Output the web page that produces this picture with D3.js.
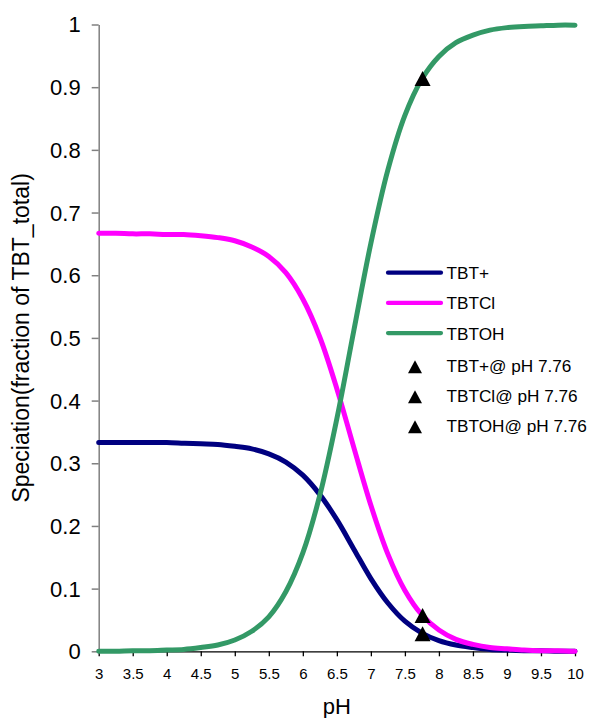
<!DOCTYPE html>
<html>
<head>
<meta charset="utf-8">
<script src="https://cdn.jsdelivr.net/npm/d3@7"></script>
<style>
  html, body { margin: 0; padding: 0; background: #fff; }
  svg { display: block; font-family: "Liberation Sans", Arial, sans-serif; }
</style>
</head>
<body>
<svg id="chart" width="593" height="718"></svg>
<script>
// pH grid of the speciation calculation
const pH = [3, 3.25, 3.5, 3.75, 4, 4.25, 4.5, 4.75, 5, 5.25, 5.5, 5.75, 6, 6.25, 6.5,
            6.75, 7, 7.25, 7.5, 7.75, 8, 8.25, 8.5, 8.75, 9, 9.25, 9.5, 9.75, 10];

// fraction of total TBT in each form
const tbtPlus = [0.333, 0.333, 0.333, 0.333, 0.333, 0.332, 0.331, 0.330, 0.327, 0.323, 0.315,
                 0.302, 0.281, 0.250, 0.210, 0.163, 0.116, 0.077, 0.048, 0.029, 0.017, 0.010,
                 0.006, 0.003, 0.002, 0.001, 0.001, 0.000, 0.000];
const tbtCl   = [0.667, 0.667, 0.666, 0.666, 0.665, 0.665, 0.663, 0.660, 0.655, 0.645, 0.630,
                 0.604, 0.562, 0.501, 0.419, 0.325, 0.233, 0.155, 0.097, 0.058, 0.034, 0.019,
                 0.011, 0.006, 0.004, 0.002, 0.001, 0.001, 0.000];
const tbtOH   = [0.000, 0.000, 0.001, 0.001, 0.002, 0.003, 0.006, 0.010, 0.018, 0.032, 0.055,
                 0.095, 0.157, 0.249, 0.371, 0.512, 0.651, 0.768, 0.855, 0.913, 0.949, 0.971,
                 0.983, 0.991, 0.995, 0.997, 0.998, 0.999, 0.999];

// single-point speciation at the sample pH
const samplePH = 7.76;
const sampleNames  = ["TBT+@ pH 7.76", "TBTCl@ pH 7.76", "TBTOH@ pH 7.76"];
const sampleValues = [0.028, 0.057, 0.914];

const seriesNames  = ["TBT+", "TBTCl", "TBTOH"];
const seriesColors = ["#000080", "#FF00FF", "#339966"];

const xTicks = [3, 3.5, 4, 4.5, 5, 5.5, 6, 6.5, 7, 7.5, 8, 8.5, 9, 9.5, 10];
const xTickLabels = ["3", "3.5", "4", "4.5", "5", "5.5", "6", "6.5", "7", "7.5", "8", "8.5", "9", "9.5", "10"];
const yTicks = [0, 0.1, 0.2, 0.3, 0.4, 0.5, 0.6, 0.7, 0.8, 0.9, 1];
const yTickLabels = ["0", "0.1", "0.2", "0.3", "0.4", "0.5", "0.6", "0.7", "0.8", "0.9", "1"];

const svg = d3.select("#chart");

const x = d3.scaleLinear().domain([3, 10]).range([98.7, 575]);
const y = d3.scaleLinear().domain([0, 1]).range([651.3, 24.5]);

// y axis (grey)
const yAxis = svg.append("g")
  .attr("transform", `translate(${x(3)},0)`)
  .call(d3.axisLeft(y).tickValues(yTicks)
    .tickFormat((d, i) => yTickLabels[i])
    .tickSize(7).tickSizeOuter(0).tickPadding(11));
yAxis.select(".domain").attr("stroke", "#808080").attr("stroke-width", 1.5);
yAxis.selectAll(".tick line").attr("stroke", "#808080").attr("stroke-width", 1.5);
yAxis.selectAll(".tick text").attr("font-size", 22).attr("fill", "#000")
  .attr("font-family", "Liberation Sans, Arial, sans-serif").attr("dy", "0.34em");

// x axis
const xAxis = svg.append("g")
  .attr("transform", `translate(0,${y(0)})`)
  .call(d3.axisBottom(x).tickValues(xTicks)
    .tickFormat((d, i) => xTickLabels[i])
    .tickSize(5).tickSizeOuter(0).tickPadding(12));
xAxis.select(".domain").attr("stroke", "#000").attr("stroke-width", 1.3);
xAxis.selectAll(".tick line").attr("stroke", "#000").attr("stroke-width", 1.3);
xAxis.selectAll(".tick text").attr("font-size", 15).attr("fill", "#000")
  .attr("font-family", "Liberation Sans, Arial, sans-serif");

// axis titles
svg.append("text")
  .attr("x", x(6.5)).attr("y", 714)
  .attr("text-anchor", "middle")
  .attr("font-size", 22).attr("fill", "#000")
  .text("pH");

svg.append("text")
  .attr("transform", `translate(29,${(y(0) + y(1)) / 2}) rotate(-90)`)
  .attr("text-anchor", "middle")
  .attr("font-size", 23).attr("fill", "#000")
  .text("Speciation(fraction of TBT_total)");

// speciation curves
const allSeries = [tbtPlus, tbtCl, tbtOH];
const line = d3.line()
  .x((d, i) => x(pH[i]))
  .y(d => y(d))
  .curve(d3.curveCatmullRom.alpha(0.5));

svg.append("g").selectAll("path")
  .data(allSeries)
  .join("path")
  .attr("d", d => line(d))
  .attr("fill", "none")
  .attr("stroke", (d, i) => seriesColors[i])
  .attr("stroke-width", 5)
  .attr("stroke-linecap", "round")
  .attr("stroke-linejoin", "round");

// triangle marker
const triangle = (w, h) => `M0,${-h / 2}L${w / 2},${h / 2}L${-w / 2},${h / 2}Z`;

svg.append("g").selectAll("path")
  .data(sampleValues)
  .join("path")
  .attr("transform", d => `translate(${x(samplePH)},${y(d)})`)
  .attr("d", triangle(16, 15))
  .attr("fill", "#000");

// legend
const legend = svg.append("g");
const rowY = [272.7, 302.9, 333.1, 366.7, 396.7, 426.7];

seriesNames.forEach((name, i) => {
  legend.append("line")
    .attr("x1", 388).attr("x2", 441)
    .attr("y1", rowY[i]).attr("y2", rowY[i])
    .attr("stroke", seriesColors[i])
    .attr("stroke-width", 4.2)
    .attr("stroke-linecap", "round");
  legend.append("text")
    .attr("x", 446.5).attr("y", rowY[i] + 6.5)
    .attr("font-size", 17.2).attr("fill", "#000")
    .text(name);
});

sampleNames.forEach((name, i) => {
  const ry = rowY[i + 3];
  legend.append("path")
    .attr("transform", `translate(415,${ry})`)
    .attr("d", triangle(14, 13))
    .attr("fill", "#000");
  legend.append("text")
    .attr("x", 446.5).attr("y", ry + 5.5)
    .attr("font-size", 17.2).attr("fill", "#000")
    .text(name);
});
</script>
</body>
</html>
